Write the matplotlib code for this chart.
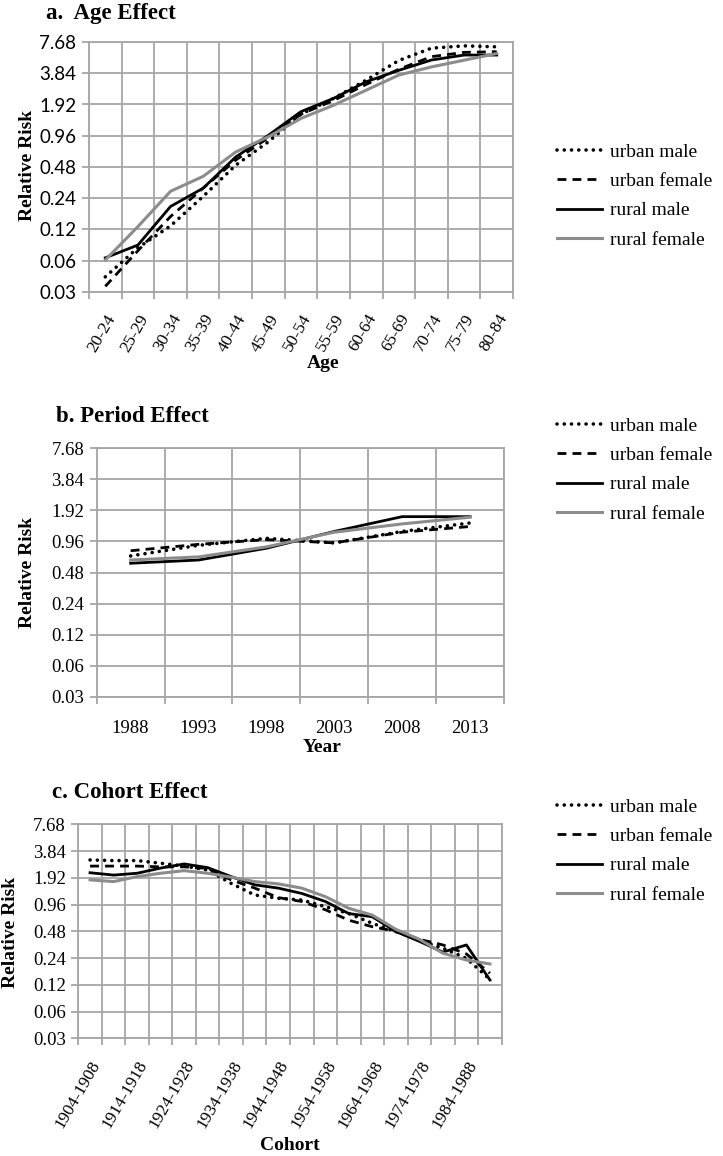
import numpy as np
import matplotlib
matplotlib.use("Agg")
import matplotlib.pyplot as plt
from matplotlib.ticker import FixedLocator, NullFormatter, FixedFormatter

# ---- data (relative risk) ----
ages = ["20-24", "25-29", "30-34", "35-39", "40-44", "45-49", "50-54",
        "55-59", "60-64", "65-69", "70-74", "75-79", "80-84"]
age_urban_male = [0.042, 0.08, 0.13, 0.25, 0.50, 0.84, 1.55, 2.2, 3.3, 5.1, 6.7, 7.05, 6.9]
age_urban_female = [0.034, 0.075, 0.16, 0.30, 0.56, 0.92, 1.55, 2.1, 3.0, 4.2, 5.55, 6.1, 6.2]
age_rural_male = [0.064, 0.085, 0.20, 0.30, 0.60, 0.97, 1.64, 2.2, 3.18, 4.1, 5.15, 5.75, 5.75]
age_rural_female = [0.061, 0.128, 0.28, 0.39, 0.67, 0.94, 1.41, 1.89, 2.64, 3.69, 4.42, 5.13, 5.95]

years = ["1988", "1993", "1998", "2003", "2008", "2013"]
per_urban_male = [0.695, 0.88, 1.03, 0.93, 1.20, 1.45]
per_urban_female = [0.78, 0.90, 1.00, 0.93, 1.18, 1.34]
per_rural_male = [0.59, 0.634, 0.825, 1.20, 1.67, 1.67]
per_rural_female = [0.634, 0.68, 0.85, 1.18, 1.42, 1.65]

cohorts = ["%d-%d" % (y, y + 4) for y in range(1904, 1990, 5)]
coh_urban_male = [3.05, 3.0, 3.0, 2.8, 2.6, 2.35, 1.66, 1.23, 1.13, 1.08, 0.91, 0.76,
                  0.59, 0.477, 0.38, 0.31, 0.238, 0.138]
coh_urban_female = [2.6, 2.6, 2.6, 2.55, 2.55, 2.45, 1.82, 1.47, 1.15, 1.04, 0.84, 0.64,
                    0.54, 0.48, 0.39, 0.337, 0.267, 0.162]
coh_rural_male = [2.19, 2.06, 2.16, 2.47, 2.75, 2.5, 1.98, 1.6, 1.47, 1.28, 1.04, 0.76,
                  0.70, 0.477, 0.37, 0.28, 0.337, 0.136]
coh_rural_female = [1.82, 1.74, 1.98, 2.16, 2.31, 2.16, 1.95, 1.74, 1.64, 1.47, 1.18, 0.87,
                    0.73, 0.505, 0.39, 0.272, 0.228, 0.206]

labels = ["urban male", "urban female", "rural male", "rural female"]
yticks = [0.03 * 2 ** k for k in range(9)]
ytick_labels = ["0.03", "0.06", "0.12", "0.24", "0.48", "0.96", "1.92", "3.84", "7.68"]

SERIF = "Liberation Serif"
SANS = "Lato"
GRID = "#a6a6a6"

styles = [
    dict(color="black", lw=2.6, linestyle=(0, (0.01, 2.0)), dash_capstyle="round"),
    dict(color="black", lw=2.0, linestyle=(0, (3.2, 2.2))),
    dict(color="black", lw=2.0, linestyle="-"),
    dict(color="#8c8c8c", lw=2.2, linestyle="-"),
]

fig = plt.figure(figsize=(7.23, 11.56), dpi=100)


def panel(rect, cats, series, label_every, rot, xpad, xsize, ytick_font, legend_y):
    ax = fig.add_axes(rect)
    n = len(cats)
    x = np.arange(n)
    lines = []
    for s, st in zip(series, styles):
        ln, = ax.plot(x, s, **st)
        lines.append(ln)
    ax.set_yscale("log", base=2)
    ax.set_ylim(0.03, 7.68)
    ax.yaxis.set_major_locator(FixedLocator(yticks))
    ax.yaxis.set_major_formatter(FixedFormatter(ytick_labels))
    ax.yaxis.set_minor_locator(FixedLocator([]))
    ax.set_xlim(-0.5, n - 0.5)
    ax.xaxis.set_major_locator(FixedLocator(np.arange(n + 1) - 0.5))
    ax.xaxis.set_major_formatter(NullFormatter())
    shown = x[::label_every]
    ax.xaxis.set_minor_locator(FixedLocator(shown))
    ax.xaxis.set_minor_formatter(FixedFormatter([cats[i] for i in shown]))
    ax.grid(True, which="major", color=GRID, lw=1.3)
    ax.set_axisbelow(True)
    for sp in ax.spines.values():
        sp.set_color(GRID)
        sp.set_linewidth(1.3)
    ax.tick_params(axis="both", which="major", color=GRID, length=5, width=1.3)
    ax.tick_params(axis="x", which="minor", length=0, pad=xpad)
    ax.tick_params(axis="y", labelsize=13.5, pad=4)
    for t in ax.get_yticklabels():
        t.set_fontfamily(ytick_font)
    for t in ax.xaxis.get_minorticklabels():
        t.set_fontfamily(SERIF)
        t.set_fontsize(xsize)
        if rot:
            t.set_rotation(rot)
            t.set_ha("right")
            t.set_rotation_mode("anchor")
    fig.legend(lines, labels, loc="center left", bbox_to_anchor=(557 / 723, legend_y),
               frameon=False, borderpad=0, borderaxespad=0, handlelength=2.3,
               handletextpad=0.4, labelspacing=0.6,
               prop={"family": SERIF, "size": 14})
    return ax


def fy(px):
    return 1 - px / 1156


panel([89 / 723, fy(292), 424 / 723, 250 / 1156], ages,
      [age_urban_male, age_urban_female, age_rural_male, age_rural_female],
      1, 60, 14, 12.5, SANS, fy(196))
panel([96.7 / 723, fy(696.7), 407.3 / 723, 248.4 / 1156], years,
      [per_urban_male, per_urban_female, per_rural_male, per_rural_female],
      1, 0, 17, 13.5, SERIF, fy(470))
panel([78.3 / 723, fy(1038.3), 423.4 / 723, 214 / 1156], cohorts,
      [coh_urban_male, coh_urban_female, coh_rural_male, coh_rural_female],
      2, 60, 14, 12.5, SERIF, fy(851))

tkw = dict(fontfamily=SERIF, fontweight="bold", fontsize=16.5, va="center", ha="left")
fig.text(46 / 723, fy(14), "a.  Age Effect", **tkw)
fig.text(56 / 723, fy(417), "b. Period Effect", **tkw)
fig.text(52 / 723, fy(793), "c. Cohort Effect", **tkw)

lkw = dict(fontfamily=SERIF, fontweight="bold", fontsize=14, va="center", ha="center")
fig.text(28 / 723, fy(165), "Relative Risk", rotation=90, **lkw)
fig.text(28 / 723, fy(572), "Relative Risk", rotation=90, **lkw)
fig.text(11 / 723, fy(932), "Relative Risk", rotation=90, **lkw)
fig.text(323 / 723, fy(364), "Age", **lkw)
fig.text(322 / 723, fy(747), "Year", **lkw)
fig.text(290 / 723, fy(1146), "Cohort", **lkw)

fig.savefig("out.png", dpi=100)
